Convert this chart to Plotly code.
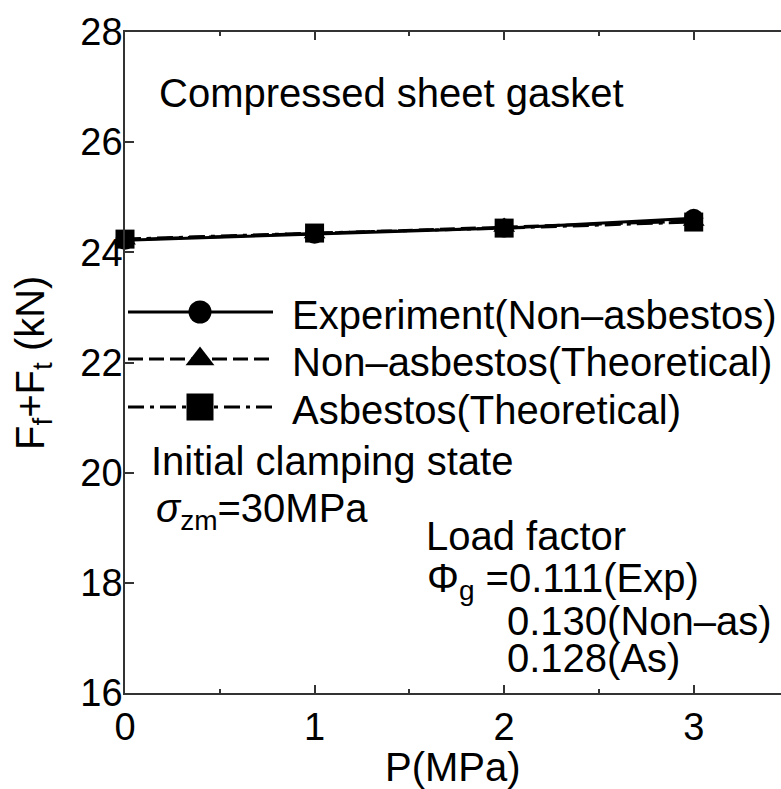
import plotly.graph_objects as go

# Applied pressure P (MPa)
pressure = [0, 1, 2, 3]

# Ff + Ft (kN) for the compressed sheet gasket
experiment_non_asbestos = [24.22, 24.33, 24.44, 24.62]
theory_non_asbestos = [24.23, 24.34, 24.46, 24.57]
theory_asbestos = [24.24, 24.35, 24.44, 24.55]

series_names = [
    "Experiment(Non\u2013asbestos)",
    "Non\u2013asbestos(Theoretical)",
    "Asbestos(Theoretical)",
]
series_values = [experiment_non_asbestos, theory_non_asbestos, theory_asbestos]

x_tick_values = [0, 1, 2, 3]
y_tick_values = [16, 18, 20, 22, 24, 26, 28]

# Styling for each series: marker symbol, sizes and dash pattern
styles = [
    dict(symbol="circle", size=19, legend_size=23, dash="solid"),
    dict(symbol="triangle-up", size=19, legend_size=25, dash="15px,6px"),
    dict(symbol="square", size=19, legend_size=27, dash="16px,6px,4px,6px"),
]

FONT = "Liberation Sans, Arial, Helvetica, sans-serif"
FS = 40
W, H = 781, 789
L, R, T, B = 125, 0, 32, 96

fig = go.Figure()

for name, vals, st in zip(series_names, series_values, styles):
    fig.add_trace(go.Scatter(
        x=pressure, y=vals, name=name, mode="lines+markers",
        line=dict(color="black", width=3, dash=st["dash"]),
        marker=dict(symbol=st["symbol"], size=st["size"], color="black"),
        showlegend=False, cliponaxis=False,
    ))

# Hand-drawn legend on an overlay axis measured in page pixels
legend_rows = [312, 359, 407]
for name, row, st in zip(series_names, legend_rows, styles):
    fig.add_trace(go.Scatter(
        x=[128, 273], y=[row, row], mode="lines", xaxis="x2", yaxis="y2",
        line=dict(color="black", width=3, dash=st["dash"]),
        showlegend=False, hoverinfo="skip",
    ))
    fig.add_trace(go.Scatter(
        x=[200], y=[row], mode="markers", xaxis="x2", yaxis="y2",
        marker=dict(symbol=st["symbol"], size=st["legend_size"], color="black"),
        showlegend=False, hoverinfo="skip",
    ))

annotations = []


def label(text, x, y, xanchor="left", yanchor="top", angle=0, paper=False):
    if paper:
        # page pixels -> paper fractions of the plotting area
        x = (x - L) / (W - L - R)
        y = (H - B - y) / (H - B - T)
    annotations.append(dict(
        text=text, x=x, y=y,
        xref="paper" if paper else "x2", yref="paper" if paper else "y2",
        xanchor=xanchor, yanchor=yanchor, showarrow=False, textangle=angle,
        font=dict(family=FONT, size=FS, color="black"), align="left",
    ))


for name, row in zip(series_names, legend_rows):
    label(name, 290, row + 3, yanchor="middle")

label("Compressed sheet gasket", 157, 69)
label("Initial clamping state", 149, 437)
label("<i>\u03c3</i><sub>zm</sub>=30MPa", 154, 484)
label("Load factor", 424, 512)
label("\u03a6<sub>g</sub> =0.111(Exp)", 425, 554)
label("0.130(Non\u2013as)", 505, 597)
label("0.128(As)", 505, 634)

# Axis titles
label("P(MPa)", 453, 743, xanchor="center", paper=True)
label("F<sub>f</sub>+F<sub>t</sub> (kN)", 33, 363, xanchor="center",
      yanchor="middle", angle=-90, paper=True)

axis_color = "#333333"
fig.update_layout(
    width=W, height=H, autosize=False,
    margin=dict(l=L, r=R, t=T, b=B, pad=0),
    paper_bgcolor="white", plot_bgcolor="white",
    font=dict(family=FONT, size=FS, color="black"),
    showlegend=False,
    annotations=annotations,
    xaxis=dict(
        range=[0, (W - L - R) / 189.57], tickvals=x_tick_values,
        ticks="inside", ticklen=8, tickwidth=1.5, tickcolor=axis_color,
        showline=True, linecolor=axis_color, linewidth=1.5, mirror="ticks",
        showgrid=False, zeroline=False, ticklabelstandoff=0,
        tickfont=dict(family=FONT, size=38, color="black"),
        minor=dict(dtick=0.5, tick0=0, ticks="inside", ticklen=4,
                   tickwidth=1.5, tickcolor=axis_color, showgrid=False),
    ),
    yaxis=dict(
        range=[16, 28], tickvals=y_tick_values,
        ticks="inside", ticklen=9, tickwidth=1.5, tickcolor=axis_color,
        showline=True, linecolor=axis_color, linewidth=1.5, mirror=False,
        showgrid=False, zeroline=False, ticklabelstandoff=-7,
        tickfont=dict(family=FONT, size=38, color="black"),
    ),
    xaxis2=dict(range=[L, W - R], overlaying="x", visible=False,
                fixedrange=True),
    yaxis2=dict(range=[H - B, T], overlaying="y", visible=False,
                fixedrange=True),
)

fig.write_html("out.html")
